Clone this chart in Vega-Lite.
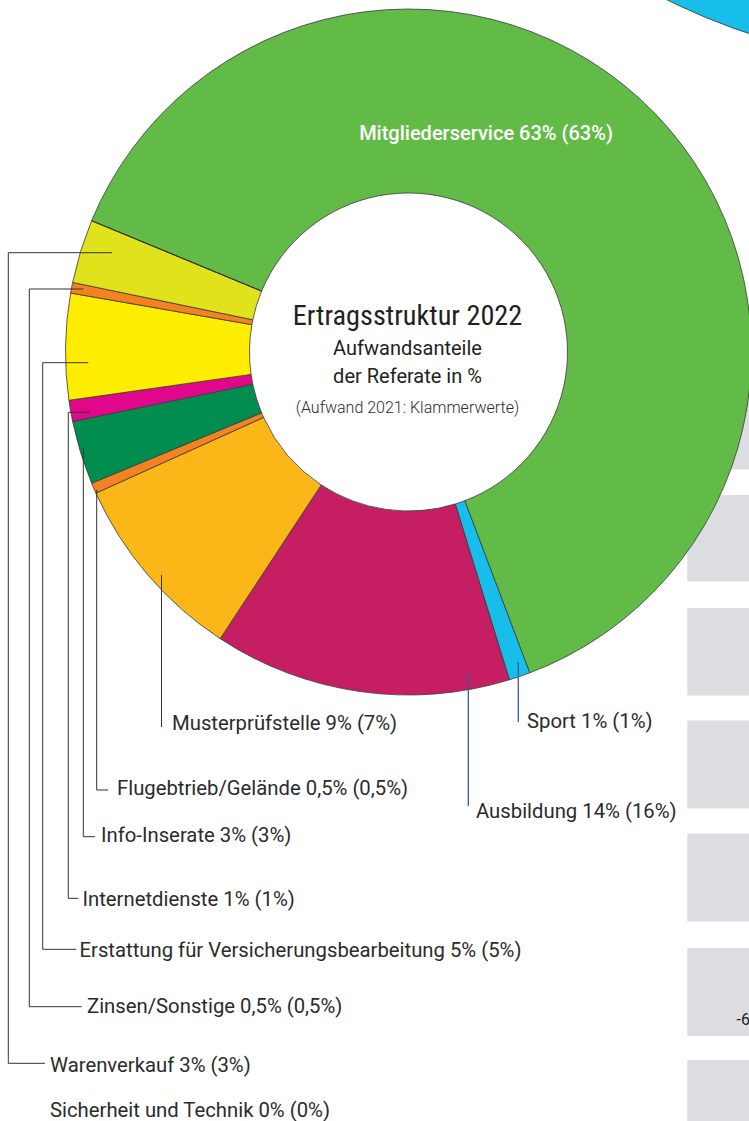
{
  "$schema": "https://vega.github.io/schema/vega-lite/v6.json",
  "width": 749,
  "height": 1121,
  "autosize": "none",
  "padding": 0,
  "background": "white",
  "view": {"stroke": null},
  "datasets": {
    "segments": [
      {"name": "Mitgliederservice", "value": 63, "prev": 63, "order": 1},
      {"name": "Sport", "value": 1, "prev": 1, "order": 2},
      {"name": "Ausbildung", "value": 14, "prev": 16, "order": 3},
      {"name": "Musterprüfstelle", "value": 9, "prev": 7, "order": 4},
      {"name": "Flugebtrieb/Gelände", "value": 0.5, "prev": 0.5, "order": 5},
      {"name": "Info-Inserate", "value": 3, "prev": 3, "order": 6},
      {"name": "Internetdienste", "value": 1, "prev": 1, "order": 7},
      {"name": "Erstattung für Versicherungsbearbeitung", "value": 5, "prev": 5, "order": 8},
      {"name": "Zinsen/Sonstige", "value": 0.5, "prev": 0.5, "order": 9},
      {"name": "Warenverkauf", "value": 3, "prev": 3, "order": 10},
      {"name": "Sicherheit und Technik", "value": 0, "prev": 0, "order": 11}
    ],
    "labels": [
      {"t": "Musterprüfstelle 9% (7%)", "x": 172, "y": 730},
      {"t": "Flugebtrieb/Gelände 0,5% (0,5%)", "x": 117, "y": 795},
      {"t": "Info-Inserate 3% (3%)", "x": 101, "y": 841.5},
      {"t": "Internetdienste 1% (1%)", "x": 82.5, "y": 906},
      {"t": "Erstattung für Versicherungsbearbeitung 5% (5%)", "x": 79.5, "y": 956.5},
      {"t": "Zinsen/Sonstige 0,5% (0,5%)", "x": 87, "y": 1013},
      {"t": "Warenverkauf 3% (3%)", "x": 50, "y": 1071.5},
      {"t": "Sicherheit und Technik 0% (0%)", "x": 50, "y": 1116.5},
      {"t": "Sport 1% (1%)", "x": 527, "y": 728},
      {"t": "Ausbildung 14% (16%)", "x": 476, "y": 818}
    ],
    "leadersLeft": [
      {"k": "Musterprüfstelle", "i": 1, "x": 161.5, "y": 575},
      {"k": "Musterprüfstelle", "i": 2, "x": 161.5, "y": 727},
      {"k": "Flugebtrieb", "i": 1, "x": 96.7, "y": 490},
      {"k": "Flugebtrieb", "i": 2, "x": 96.7, "y": 790},
      {"k": "Flugebtrieb", "i": 3, "x": 108, "y": 790},
      {"k": "Info", "i": 1, "x": 83.3, "y": 448},
      {"k": "Info", "i": 2, "x": 83.3, "y": 836.7},
      {"k": "Info", "i": 3, "x": 95, "y": 836.7},
      {"k": "Internet", "i": 1, "x": 89.3, "y": 412.3},
      {"k": "Internet", "i": 2, "x": 68.3, "y": 412.3},
      {"k": "Internet", "i": 3, "x": 68.3, "y": 898.3},
      {"k": "Internet", "i": 4, "x": 78.3, "y": 898.3},
      {"k": "Erstattung", "i": 1, "x": 88.3, "y": 362.7},
      {"k": "Erstattung", "i": 2, "x": 42.7, "y": 362.7},
      {"k": "Erstattung", "i": 3, "x": 42.7, "y": 949.3},
      {"k": "Erstattung", "i": 4, "x": 76, "y": 949.3},
      {"k": "Zinsen", "i": 1, "x": 83.3, "y": 289},
      {"k": "Zinsen", "i": 2, "x": 29.3, "y": 289},
      {"k": "Zinsen", "i": 3, "x": 29.3, "y": 1006.7},
      {"k": "Zinsen", "i": 4, "x": 81.7, "y": 1006.7},
      {"k": "Waren", "i": 1, "x": 112, "y": 252.7},
      {"k": "Waren", "i": 2, "x": 8.3, "y": 252.7},
      {"k": "Waren", "i": 3, "x": 8.3, "y": 1063.3},
      {"k": "Waren", "i": 4, "x": 45, "y": 1063.3}
    ],
    "leadersRight": [
      {"k": "Ausbildung", "i": 1, "x": 468.3, "y": 673.3},
      {"k": "Ausbildung", "i": 2, "x": 468.3, "y": 806},
      {"k": "Sport", "i": 1, "x": 518.3, "y": 662.3},
      {"k": "Sport", "i": 2, "x": 518.3, "y": 722}
    ],
    "neighbourBars": [
      {"r": 1, "x": 687.3, "x2": 770, "y": 382, "y2": 469.5},
      {"r": 2, "x": 687.3, "x2": 770, "y": 495, "y2": 581.5},
      {"r": 3, "x": 687.3, "x2": 770, "y": 608, "y2": 695.5},
      {"r": 4, "x": 687.3, "x2": 770, "y": 720.5, "y2": 808.5},
      {"r": 5, "x": 687.3, "x2": 770, "y": 833.5, "y2": 921.5},
      {"r": 6, "x": 687.3, "x2": 770, "y": 948, "y2": 1036},
      {"r": 7, "x": 687.3, "x2": 770, "y": 1060, "y2": 1148}
    ]
  },
  "layer": [
    {
      "data": {"name": "neighbourBars"},
      "mark": {"type": "rect", "color": "#dcdde0"},
      "encoding": {
        "x": {"field": "x", "type": "quantitative", "scale": {"domain": [0, 749], "nice": false, "zero": false}, "axis": null},
        "x2": {"field": "x2"},
        "y": {"field": "y", "type": "quantitative", "scale": {"domain": [0, 1121], "reverse": true, "nice": false, "zero": false}, "axis": null},
        "y2": {"field": "y2"}
      }
    },
    {
      "data": {"values": [{"part": "neighbour circle"}]},
      "mark": {"type": "arc", "radius": 665, "theta": 0, "theta2": 6.2832, "fill": "#17bee9", "stroke": "#333333", "strokeWidth": 0.8},
      "encoding": {
        "x": {"datum": 960, "type": "quantitative"},
        "y": {"datum": -597, "type": "quantitative"}
      }
    },
    {
      "data": {"name": "segments"},
      "mark": {"type": "arc", "radius": 343, "radius2": 159, "stroke": "#3a3a3a", "strokeWidth": 0.8},
      "encoding": {
        "x": {"datum": 408.5, "type": "quantitative"},
        "y": {"datum": 352, "type": "quantitative"},
        "theta": {"field": "value", "type": "quantitative", "stack": true, "scale": {"range": [-1.1781, 5.1051]}},
        "order": {"field": "order", "type": "quantitative"},
        "color": {
          "field": "name",
          "type": "nominal",
          "legend": null,
          "scale": {
            "domain": ["Mitgliederservice", "Sport", "Ausbildung", "Musterprüfstelle", "Flugebtrieb/Gelände", "Info-Inserate", "Internetdienste", "Erstattung für Versicherungsbearbeitung", "Zinsen/Sonstige", "Warenverkauf", "Sicherheit und Technik"],
            "range": ["#62bb47", "#17bee9", "#c61e63", "#fbb617", "#f58220", "#008d4f", "#e2068b", "#ffed00", "#f58220", "#e0e21b", "#999999"]
          }
        }
      }
    },
    {
      "data": {"name": "leadersLeft"},
      "mark": {"type": "line", "stroke": "#333333", "strokeWidth": 1, "interpolate": "linear"},
      "encoding": {
        "x": {"field": "x", "type": "quantitative"},
        "y": {"field": "y", "type": "quantitative"},
        "detail": {"field": "k"},
        "order": {"field": "i", "type": "quantitative"}
      }
    },
    {
      "data": {"name": "leadersRight"},
      "mark": {"type": "line", "stroke": "#2d5c9e", "strokeWidth": 1.3},
      "encoding": {
        "x": {"field": "x", "type": "quantitative"},
        "y": {"field": "y", "type": "quantitative"},
        "detail": {"field": "k"},
        "order": {"field": "i", "type": "quantitative"}
      }
    },
    {
      "data": {"name": "labels"},
      "mark": {"type": "text", "align": "left", "baseline": "alphabetic", "font": "Roboto", "fontSize": 20.3, "color": "#2b2b2b"},
      "encoding": {
        "x": {"field": "x", "type": "quantitative"},
        "y": {"field": "y", "type": "quantitative"},
        "text": {"field": "t"}
      }
    },
    {
      "data": {"values": [{"t": "Mitgliederservice 63% (63%)"}]},
      "mark": {"type": "text", "align": "center", "baseline": "alphabetic", "font": "Roboto", "fontSize": 20, "fontWeight": 500, "color": "white"},
      "encoding": {
        "x": {"datum": 486, "type": "quantitative"},
        "y": {"datum": 140, "type": "quantitative"},
        "text": {"field": "t"}
      }
    },
    {
      "data": {"values": [{"t": "Ertragsstruktur 2022"}]},
      "mark": {"type": "text", "align": "center", "baseline": "alphabetic", "font": "Liberation Sans Narrow, Roboto Condensed, Roboto", "fontSize": 28.3, "color": "#231f20"},
      "encoding": {
        "x": {"datum": 407.5, "type": "quantitative"},
        "y": {"datum": 325, "type": "quantitative"},
        "text": {"field": "t"}
      }
    },
    {
      "data": {"values": [{"t": "Aufwandsanteile", "line": 1}, {"t": "der Referate in %", "line": 2}]},
      "mark": {"type": "text", "align": "center", "baseline": "alphabetic", "font": "Roboto", "fontSize": 20, "color": "#231f20"},
      "encoding": {
        "x": {"datum": 407.5, "type": "quantitative"},
        "y": {"datum": 355, "type": "quantitative"},
        "text": {"field": "t"},
        "yOffset": {"field": "line", "type": "quantitative", "scale": {"domain": [1, 2], "range": [0, 28]}}
      }
    },
    {
      "data": {"values": [{"t": "(Aufwand 2021: Klammerwerte)"}]},
      "mark": {"type": "text", "align": "center", "baseline": "alphabetic", "font": "Roboto", "fontSize": 16, "fontWeight": 300, "color": "#2b2b2b"},
      "encoding": {
        "x": {"datum": 407.5, "type": "quantitative"},
        "y": {"datum": 413, "type": "quantitative"},
        "text": {"field": "t"}
      }
    },
    {
      "data": {"values": [{"t": "-6"}]},
      "mark": {"type": "text", "align": "left", "baseline": "alphabetic", "font": "Liberation Sans Narrow, Roboto", "fontSize": 16, "color": "#222222"},
      "encoding": {
        "x": {"datum": 736.5, "type": "quantitative"},
        "y": {"datum": 1025, "type": "quantitative"},
        "text": {"field": "t"}
      }
    }
  ]
}
